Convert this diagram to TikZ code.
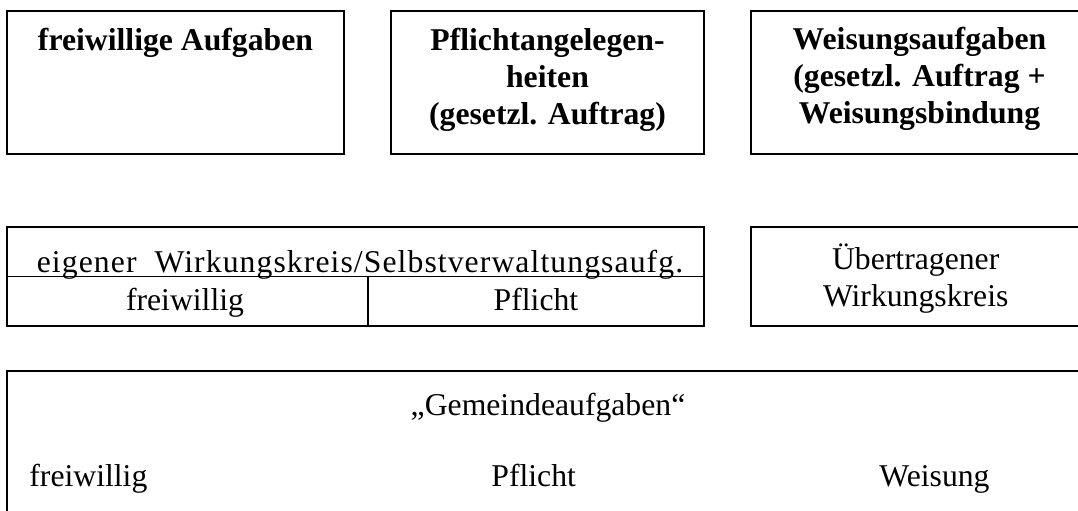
\documentclass[tikz,border=0pt]{standalone}
\usepackage{fontspec}
\setmainfont{Liberation Serif}
\newfontfamily\spacedserif[LetterSpace=3.4]{Liberation Serif}
\begin{document}
\begin{tikzpicture}[x=0.5pt,y=-0.5pt,
  font=\fontsize{15.85}{18.5}\selectfont,
  box/.style={draw, line width=1pt, inner sep=0pt, rectangle},
  divline/.style={line width=0.6pt},
  lbl/.style={inner sep=0pt, anchor=base, align=center},
  blbl/.style={lbl, font=\fontsize{15.85}{18.5}\selectfont\bfseries}]
\useasboundingbox (0,0) rectangle (1078,510);
\clip (0,0) rectangle (1078,510);
% row 1
\node[box, minimum width=168.5pt, minimum height=71.5pt] (b1) at (175.5,82.5) {};
\node[box, minimum width=156.5pt, minimum height=71.5pt] (b2) at (547.5,82.5) {};
\node[box, minimum width=168.5pt, minimum height=71.5pt] (b3) at (919.5,82.5) {};
\node[blbl] (t1) at (175.5,50) {freiwillige Aufgaben};
\node[blbl] (t2) at (547.5,124) {Pflichtangelegen-\\heiten\\(gesetzl. Auftrag)};
\node[blbl] (t3) at (919.5,123) {Weisungsaufgaben\\(gesetzl. Auftrag +\\Weisungsbindung};
% row 2
\node[box, minimum width=348.5pt, minimum height=49.5pt] (r2l) at (355.5,276.5) {};
\node[box, minimum width=168.5pt, minimum height=49.5pt] (r2r) at (919.5,276.5) {};
\coordinate (dv) at (368,276.5);
\draw[divline] (r2l.west) -- (r2l.east);
\draw[divline] (dv) -- (dv |- r2l.south);
\node[lbl, font=\fontsize{15.85}{18.5}\spacedserif] (eig) at (360,272) {eigener\ \ Wirkungskreis/Selbstverwaltungsaufg.};
\node[lbl] (fw2) at (185,310) {freiwillig};
\node[lbl] (pf2) at (536,310) {Pflicht};
\node[lbl] (ueb) at (915.7,306) {Übertragener\\Wirkungskreis};
% row 3
\node[box, minimum width=541pt, minimum height=114.5pt] (r3) at (548,485.5) {};
\node[lbl] (gem) at (548,415) {„Gemeindeaufgaben“};
\node[lbl, anchor=base west] (fw3) at (29,486) {freiwillig};
\node[lbl, anchor=base west] (pf3) at (491,486) {Pflicht};
\node[lbl, anchor=base west] (ws3) at (879,486) {Weisung};
\end{tikzpicture}
\end{document}
